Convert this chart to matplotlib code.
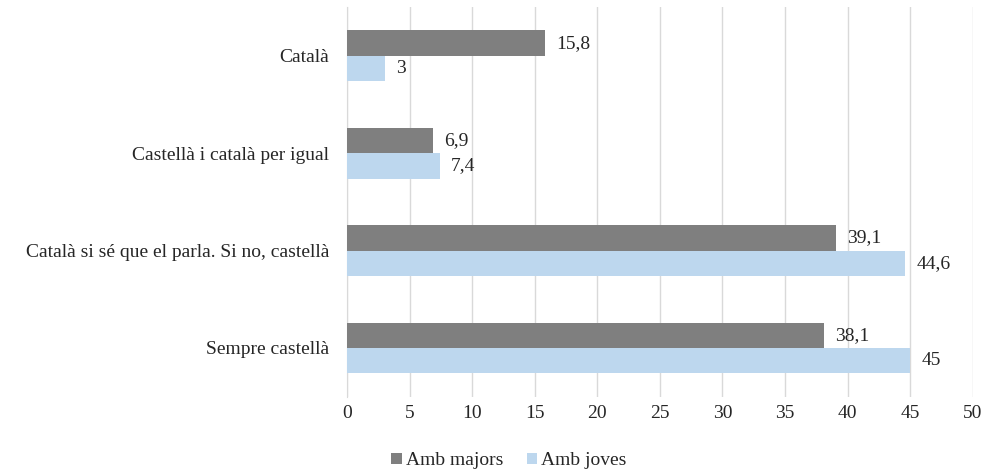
import numpy as np
import matplotlib.pyplot as plt

plt.rcParams['font.family'] = ['Liberation Serif', 'DejaVu Serif']

categories = ['Català', 'Castellà i català per igual',
              'Català si sé que el parla. Si no, castellà', 'Sempre castellà']
majors = [15.8, 6.9, 39.1, 38.1]
joves = [3, 7.4, 44.6, 45]
series_names = ['Amb majors', 'Amb joves']

fig = plt.figure(figsize=(9.9, 4.75), dpi=100)
ax = fig.add_axes([0.3505, 0.165, 0.632, 0.82])

y = np.arange(len(categories))
h = 0.26
b1 = ax.barh(y - h / 2, majors, height=h, color='#7f7f7f', label=series_names[0], zorder=3)
b2 = ax.barh(y + h / 2, joves, height=h, color='#bdd7ee', label=series_names[1], zorder=3)

def fmt(v):
    return ('%g' % v).replace('.', ',')

for bars, vals in ((b1, majors), (b2, joves)):
    for rect, v in zip(bars, vals):
        ax.text(v + 0.9, rect.get_y() + rect.get_height() / 2, fmt(v),
                va='center', ha='left', fontsize=14, color='#262626')

ax.set_xlim(0, 50)
ax.set_ylim(len(categories) - 0.5, -0.5)
ax.set_xticks(range(0, 51, 5))
ax.set_yticks(y)
ax.set_yticklabels(categories)
ax.tick_params(axis='both', length=0, labelsize=14, colors='#262626')
ax.tick_params(axis='y', pad=13)
ax.tick_params(axis='x', pad=6)
ax.grid(axis='x', color='#d9d9d9', linewidth=1, zorder=0)
for s in ('top', 'right', 'bottom'):
    ax.spines[s].set_visible(False)
ax.spines['left'].set_color('#d9d9d9')

fig.legend(handles=[b1, b2], loc='lower center', bbox_to_anchor=(0.514, -0.025), ncol=2,
           frameon=False, fontsize=14, handlelength=0.55, handleheight=0.55,
           handletextpad=0.2, columnspacing=1.2, labelcolor='#262626')

fig.savefig('out.png', dpi=100)
